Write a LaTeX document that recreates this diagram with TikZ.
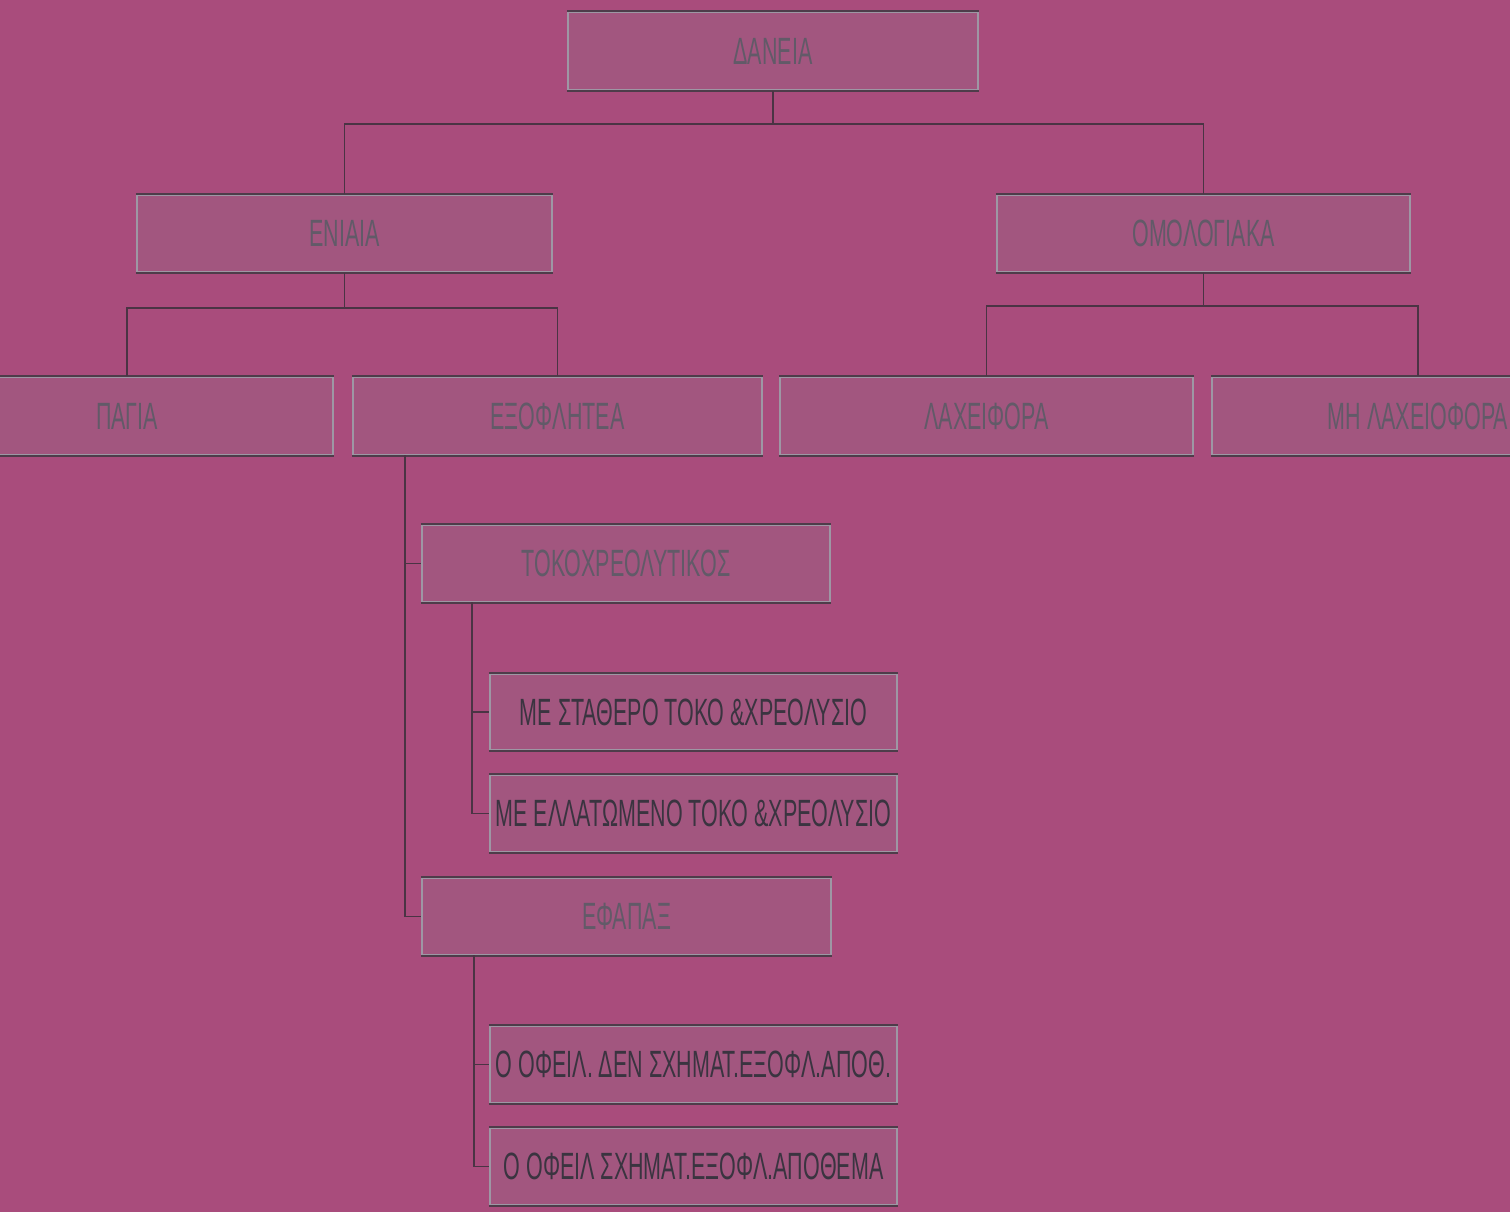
\documentclass[tikz,border=0pt]{standalone}
\usepackage{fontspec}
\setmainfont{Liberation Sans}[FakeStretch=0.565]
\definecolor{bg}{HTML}{A94C7C}
\definecolor{boxfill}{HTML}{A2567F}
\definecolor{boxedge}{HTML}{9E97A4}
\definecolor{darkedge}{HTML}{4E3C4A}
\definecolor{linecol}{HTML}{4A3444}
\definecolor{txtA}{HTML}{625A68}
\definecolor{txtB}{HTML}{3A3440}
\tikzset{
  darkline/.style={draw=darkedge, line width=1.1pt},
  box/.style={draw=boxedge, fill=boxfill, line width=1.2pt, inner sep=0pt,
    font=\fontsize{19}{21}\selectfont,
    append after command={
      (\tikzlastnode.north west) edge[darkline] (\tikzlastnode.north east)
      (\tikzlastnode.south west) edge[darkline] (\tikzlastnode.south east)}},
  boxA/.style={box, text=txtA},
  boxB/.style={box, text=txtB},
  conn/.style={draw=linecol, line width=0.8pt},
}
\begin{document}
\begin{tikzpicture}[x=0.5pt,y=-0.5pt]
\useasboundingbox (0,0) rectangle (1510,1212);
\clip (0,0) rectangle (1510,1212);
\fill[bg] (0,0) rectangle (1510,1212);
% nodes
\node[boxA, minimum width=205pt, minimum height=39pt] (danei) at (773,51) {ΔΑΝΕΙΑ};
\node[boxA, minimum width=207.5pt, minimum height=38.5pt] (eniaia) at (344.5,233.5) {ΕΝΙΑΙΑ};
\node[boxA, minimum width=206.5pt, minimum height=38.5pt] (omol) at (1203.5,233.5) {ΟΜΟΛΟΓΙΑΚΑ};
\node[boxA, minimum width=206pt, minimum height=39pt] (pagia) at (127,416) {ΠΑΓΙΑ};
\node[boxA, minimum width=204.5pt, minimum height=39pt] (exof) at (557.5,416) {ΕΞΟΦΛΗΤΕΑ};
\node[boxA, minimum width=206.5pt, minimum height=39pt] (laxe) at (986.5,416) {ΛΑΧΕΙΦΟΡΑ};
\node[boxA, minimum width=206pt, minimum height=39pt] (mh) at (1418,416) {ΜΗ ΛΑΧΕΙΟΦΟΡΑ};
\node[boxA, minimum width=204pt, minimum height=38.5pt] (tokox) at (626,563.5) {ΤΟΚΟΧΡΕΟΛΥΤΙΚΟΣ};
\node[boxB, minimum width=203.5pt, minimum height=38pt] (stath) at (693.5,712) {ΜΕ ΣΤΑΘΕΡΟ ΤΟΚΟ \&ΧΡΕΟΛΥΣΙΟ};
\node[boxB, minimum width=203.5pt, minimum height=38.5pt] (ellat) at (693.5,813.5) {ΜΕ ΕΛΛΑΤΩΜΕΝΟ ΤΟΚΟ \&ΧΡΕΟΛΥΣΙΟ};
\node[boxA, minimum width=204.5pt, minimum height=38.5pt] (efapax) at (626.5,916.5) {ΕΦΑΠΑΞ};
\node[boxB, minimum width=203.5pt, minimum height=38.5pt] (ofA) at (693.5,1064.5) {Ο ΟΦΕΙΛ. ΔΕΝ ΣΧΗΜΑΤ.ΕΞΟΦΛ.ΑΠΟΘ.};
\node[boxB, minimum width=203.5pt, minimum height=38.5pt] (ofB) at (693.5,1166.5) {Ο ΟΦΕΙΛ ΣΧΗΜΑΤ.ΕΞΟΦΛ.ΑΠΟΘΕΜΑ};
% bus coordinates
\coordinate (busA) at (0,124);
\coordinate (busB) at (0,308);
\coordinate (busC) at (0,306);
\coordinate (trA) at (405,455);
\coordinate (trB) at (472,602);
\coordinate (trC) at (474,955);
% connectors
\draw[conn] (danei.south) -- (danei.south |- busA) -| (eniaia.north);
\draw[conn] (danei.south |- busA) -| (omol.north);
\draw[conn] (eniaia.south) -- (eniaia.south |- busB) -| (pagia.north);
\draw[conn] (eniaia.south |- busB) -| (exof.north);
\draw[conn] (omol.south) -- (omol.south |- busC) -| (laxe.north);
\draw[conn] (omol.south |- busC) -| (mh.north);
\draw[conn] (trA) |- (tokox.west);
\draw[conn] (trA) |- (efapax.west);
\draw[conn] (trB) |- (stath.west);
\draw[conn] (trB) |- (ellat.west);
\draw[conn] (trC) |- (ofA.west);
\draw[conn] (trC) |- (ofB.west);
\end{tikzpicture}
\end{document}
